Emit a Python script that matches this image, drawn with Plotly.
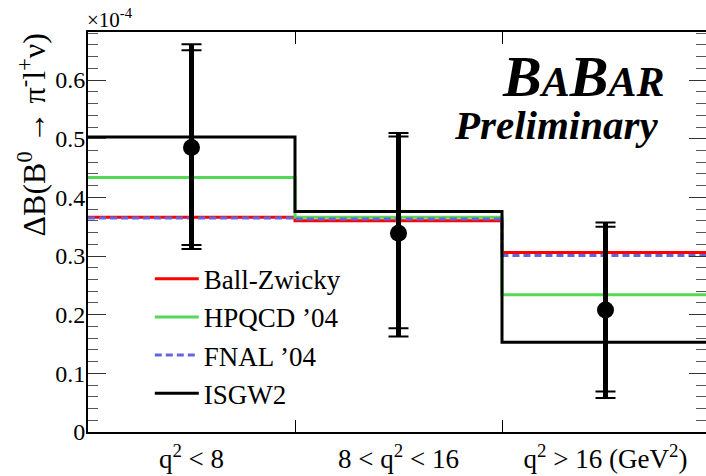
import plotly.graph_objects as go

# ---- data ----
categories = ["q<sup>2</sup> < 8", "8 < q<sup>2</sup> < 16", "q<sup>2</sup> > 16 (GeV<sup>2</sup>)"]
bin_edges = [0, 1, 2, 3]
bin_centers = [0.5, 1.5, 2.5]

ball_zwicky = [0.366, 0.360, 0.306]
hpqcd_04 = [0.434, 0.366, 0.234]
fnal_04 = [0.365, 0.363, 0.301]
isgw2 = [0.503, 0.376, 0.153]

data_y = [0.485, 0.339, 0.208]
total_hi = [0.661, 0.510, 0.357]
total_lo = [0.312, 0.163, 0.058]
stat_hi = [0.651, 0.504, 0.350]
stat_lo = [0.319, 0.177, 0.069]

FONT = "Liberation Serif, Times New Roman, serif"

def step(vals):
    return vals + [vals[-1]]

fig = go.Figure()

models = [
    ("Ball-Zwicky", ball_zwicky, dict(color="#ff0000", width=3)),
    ("HPQCD ’04", hpqcd_04, dict(color="#55d955", width=3)),
    ("FNAL ’04", fnal_04, dict(color="#6464e0", width=3, dash="7px,4px")),
    ("ISGW2", isgw2, dict(color="#000000", width=3)),
]
for name, vals, line in models:
    fig.add_trace(go.Scatter(x=bin_edges, y=step(vals), mode="lines",
                             line=dict(shape="hv", **line), name=name))

def diffs(a, b):
    return [abs(x - y) for x, y in zip(a, b)]

# caps for total and stat errors
for hi, lo in [(total_hi, total_lo), (stat_hi, stat_lo)]:
    fig.add_trace(go.Scatter(
        x=bin_centers, y=data_y, mode="markers",
        marker=dict(size=1, color="rgba(0,0,0,0)"),
        error_y=dict(type="data", symmetric=False, array=diffs(hi, data_y),
                     arrayminus=diffs(data_y, lo), thickness=2, width=10, color="black"),
        showlegend=False, hoverinfo="skip"))

# thick bar + marker
fig.add_trace(go.Scatter(
    x=bin_centers, y=data_y, mode="markers",
    marker=dict(size=17, color="black"),
    error_y=dict(type="data", symmetric=False, array=diffs(total_hi, data_y),
                 arrayminus=diffs(data_y, total_lo), thickness=5, width=0, color="black"),
    showlegend=False, hoverinfo="skip"))

# dummy trace for right-side tick axis
fig.add_trace(go.Scatter(x=[None], y=[None], yaxis="y2", showlegend=False))

YMAX = 0.682
fig.update_layout(
    width=706, height=476,
    margin=dict(l=88, r=0, t=32, b=44),
    paper_bgcolor="white", plot_bgcolor="white",
    font=dict(family=FONT, color="black"),
    showlegend=True,
    legend=dict(x=0.1, y=0.443, xanchor="left", yanchor="top",
                font=dict(family=FONT, size=27, color="black"),
                bgcolor="rgba(0,0,0,0)", itemwidth=44, borderwidth=0),
    xaxis=dict(range=[0, 618 / 207], tickmode="array", tickvals=bin_centers,
               ticktext=categories, ticks="", showgrid=False, zeroline=False,
               showline=True, linecolor="black", linewidth=2, mirror="ticks",
               automargin=False,
               tickfont=dict(family=FONT, size=27, color="black"),
               ticklabelstandoff=2,
               minor=dict(tickmode="array", tickvals=[1, 2], ticks="inside",
                          ticklen=12, tickwidth=1, tickcolor="black")),
    yaxis=dict(range=[0, YMAX], tick0=0, dtick=0.1, ticks="inside", ticklen=18,
               tickwidth=1, tickcolor="#333", showgrid=False, zeroline=False,
               showline=True, linecolor="black", linewidth=2, automargin=False,
               ticklabelstandoff=-4,
               tickfont=dict(family=FONT, size=24, color="black"),
               minor=dict(dtick=0.02, ticks="inside", ticklen=10, tickwidth=1,
                          tickcolor="#555", showgrid=False)),
    yaxis2=dict(range=[0, YMAX], overlaying="y", side="right", tick0=0, dtick=0.1,
                ticks="inside", ticklen=17, tickwidth=1, tickcolor="#333",
                showgrid=False, zeroline=False, showline=False, showticklabels=False,
                automargin=False,
                minor=dict(dtick=0.02, ticks="inside", ticklen=10, tickwidth=1,
                           tickcolor="#555", showgrid=False)),
)

fig.add_annotation(xref="paper", yref="paper", x=0, y=1, xanchor="left", yanchor="bottom",
                   xshift=-3, yshift=-2, text="×10<sup>-4</sup>", showarrow=False,
                   font=dict(family=FONT, size=21, color="black"))

fig.add_annotation(xref="paper", yref="paper", x=0, y=1, xanchor="center", yanchor="top",
                   xshift=-57, textangle=-90, showarrow=False,
                   text="ΔB(B<sup>0</sup> → π<sup>-</sup>l<sup>+</sup>ν)",
                   font=dict(family=FONT, size=32, color="black"))

fig.add_annotation(xref="paper", yref="paper", x=(666 - 88) / 618, y=(432.3 - 77) / 400.3,
                   xanchor="right", yanchor="middle", showarrow=False,
                   text="<b><i>B<span style='font-size:42px'>A</span>B<span style='font-size:42px'>AR</span></i></b>",
                   font=dict(family=FONT, size=58, color="black"))

fig.add_annotation(xref="paper", yref="paper", x=(661 - 88) / 618, y=(432.3 - 125) / 400.3,
                   xanchor="right", yanchor="middle", showarrow=False,
                   text="<b><i>Preliminary</i></b>",
                   font=dict(family=FONT, size=41, color="black"))

fig.write_html("out.html", config={"displayModeBar": False},
               post_script="document.body.style.margin='0px';")
